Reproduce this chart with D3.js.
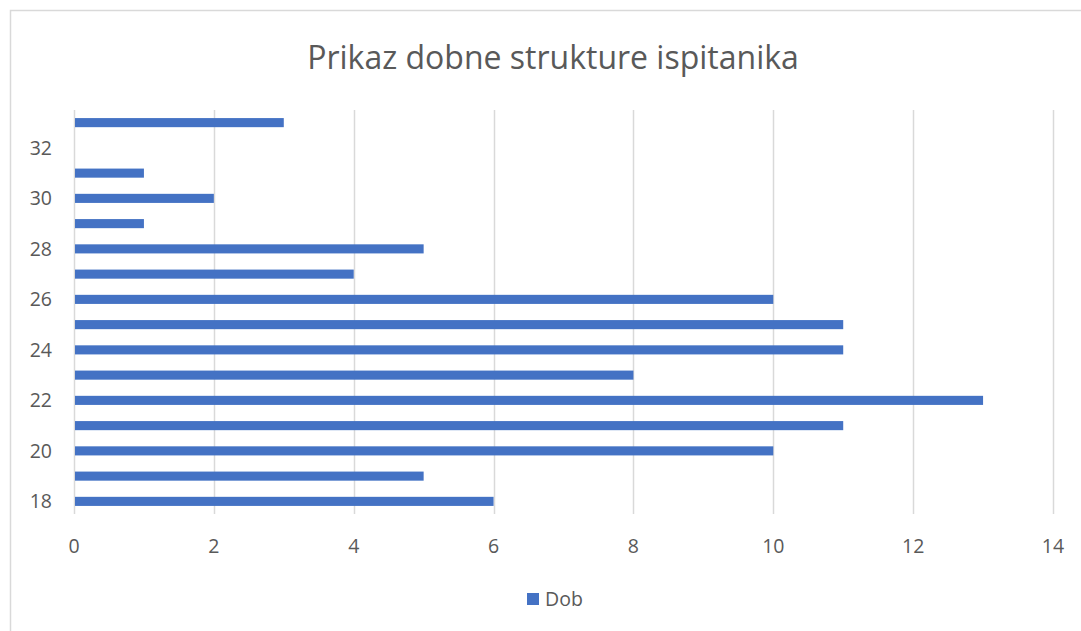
<!DOCTYPE html>
<html>
<head>
<meta charset="utf-8">
<script src="https://cdn.jsdelivr.net/npm/d3@7"></script>
<style>
  body { margin: 0; background: #fff; }
  text { font-family: 'Open Sans', sans-serif; fill: #595959; }
</style>
</head>
<body>
<div id="chart"></div>
<script>
const WIDTH = 1081;
const HEIGHT = 631;

// data
const ages = [18, 19, 20, 21, 22, 23, 24, 25, 26, 27, 28, 29, 30, 31, 32, 33];
const counts = [6, 5, 10, 11, 13, 8, 11, 11, 10, 4, 5, 1, 2, 1, 0, 3];
const xTicks = [0, 2, 4, 6, 8, 10, 12, 14];
const yLabels = [18, 20, 22, 24, 26, 28, 30, 32];
const seriesName = "Dob";
const title = "Prikaz dobne strukture ispitanika";

const svg = d3.select("#chart").append("svg")
    .attr("width", WIDTH)
    .attr("height", HEIGHT);

// chart frame (only top/left visible in the reference)
svg.append("rect")
    .attr("x", 10.5).attr("y", 10.5)
    .attr("width", WIDTH + 20).attr("height", HEIGHT + 20)
    .attr("fill", "none")
    .attr("stroke", "#d9d9d9")
    .attr("stroke-width", 1.5);

const x = d3.scaleLinear().domain([0, 14]).range([74, 1053]);
const y = d3.scaleBand().domain(ages).range([514, 110]).paddingInner(0.64).paddingOuter(0.32);

// vertical gridlines
svg.append("g")
    .selectAll("line")
    .data(xTicks)
    .join("line")
    .attr("x1", d => Math.round(x(d)) + 0.5)
    .attr("x2", d => Math.round(x(d)) + 0.5)
    .attr("y1", 110)
    .attr("y2", 514)
    .attr("stroke", "#d9d9d9")
    .attr("stroke-width", 1.5);

// bars
svg.append("g")
    .selectAll("rect")
    .data(ages.map((a, i) => ({ age: a, value: counts[i] })))
    .join("rect")
    .attr("x", x(0) + 1)
    .attr("y", d => y(d.age))
    .attr("width", d => Math.max(0, x(d.value) - x(0) - 1))
    .attr("height", y.bandwidth())
    .attr("fill", "#4472c4");

// x tick labels
svg.append("g")
    .selectAll("text")
    .data(xTicks)
    .join("text")
    .attr("x", d => x(d))
    .attr("y", 546)
    .attr("dy", "0.35em")
    .attr("text-anchor", "middle")
    .style("font-size", "19.5px")
    .text(d => d);

// y tick labels (every second age)
svg.append("g")
    .selectAll("text")
    .data(yLabels)
    .join("text")
    .attr("x", 52)
    .attr("y", d => y(d) + y.bandwidth() / 2)
    .attr("dy", "0.35em")
    .attr("text-anchor", "end")
    .style("font-size", "19.5px")
    .text(d => d);

// title
svg.append("text")
    .attr("x", 553)
    .attr("y", 58)
    .attr("dy", "0.35em")
    .attr("text-anchor", "middle")
    .style("font-size", "32px")
    .text(title);

// legend
const legend = svg.append("g").attr("transform", "translate(527, 593)");
legend.append("rect")
    .attr("width", 12).attr("height", 12)
    .attr("fill", "#4472c4");
legend.append("text")
    .attr("x", 18)
    .attr("y", 6)
    .attr("dy", "0.35em")
    .style("font-size", "19.5px")
    .text(seriesName);
</script>
</body>
</html>
